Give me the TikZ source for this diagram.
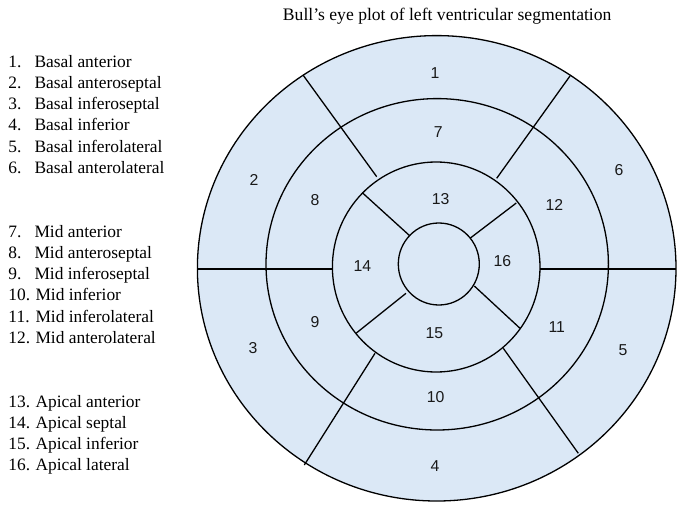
\documentclass[tikz,border=0pt]{standalone}
\usepackage{fontspec}
\setmainfont{Liberation Serif}
\newfontfamily\segfont{Liberation Sans}
\definecolor{segblue}{HTML}{DBE8F6}
\begin{document}
\begin{tikzpicture}[x=1pt,y=-1pt,
  ring/.style={draw=black,line width=1.3pt},
  divider/.style={draw=black,line width=1.3pt},
  hdivider/.style={draw=black,line width=2.2pt},
  seglabel/.style={font=\segfont\fontsize{15.8}{18}\selectfont,inner sep=0pt,text=black!90},
  itemtext/.style={anchor=base west,inner sep=0pt,font=\fontsize{17.4}{21}\selectfont},
  titletext/.style={anchor=base,inner sep=0pt,font=\fontsize{17.6}{21}\selectfont}]
\useasboundingbox (0,0) rectangle (686,511);

% title
\node[titletext] (title) at (447.2,20.7) {Bull’s eye plot of left ventricular segmentation};

% disk
\fill[segblue] (436.7,268.3) ellipse [x radius=239.3, y radius=232.7];
\draw[ring] (436.7,268.3) ellipse [x radius=239.3, y radius=232.7];
\draw[ring] (437.2,264.3) ellipse [x radius=171.2, y radius=165.7];
\draw[ring] (436.2,267.0) ellipse [x radius=103.8, y radius=105.0];
\draw[ring] (438.8,264.0) ellipse [x radius=40.5, y radius=41.0];

% basal / mid dividers
\draw[divider] (303,75) -- (376.7,176.7);
\draw[divider] (570,76) -- (496.7,178.3);
\draw[divider] (304.3,465) -- (375,353.3);
\draw[divider] (578.3,453.3) -- (503.3,348.3);
\draw[hdivider] (197.3,269) -- (332.3,269);
\draw[hdivider] (540,269) -- (676,269);

% apical dividers
\draw[divider] (362.3,192.7) -- (410,236);
\draw[divider] (516.3,203) -- (470,238.3);
\draw[divider] (356,333.3) -- (406,293.3);
\draw[divider] (474.3,286) -- (520,328.3);

% segment labels
\node[seglabel] (s1) at (435,73.3) {1};
\node[seglabel] (s2) at (254,180) {2};
\node[seglabel] (s3) at (253,348) {3};
\node[seglabel] (s4) at (435,466) {4};
\node[seglabel] (s5) at (623,350) {5};
\node[seglabel] (s6) at (619,170) {6};
\node[seglabel] (s7) at (438.3,131.7) {7};
\node[seglabel] (s8) at (315,200) {8};
\node[seglabel] (s9) at (315,321.7) {9};
\node[seglabel] (s10) at (435.7,396.7) {10};
\node[seglabel] (s11) at (556.7,327.3) {11};
\node[seglabel] (s12) at (554.3,205) {12};
\node[seglabel] (s13) at (440.7,199.3) {13};
\node[seglabel] (s14) at (362.3,266) {14};
\node[seglabel] (s15) at (434.3,333.3) {15};
\node[seglabel] (s16) at (502.3,261) {16};

% legend
\node[itemtext] (n1) at (8.3,67.3) {1.};   \node[itemtext] (t1) at (34.3,67.3) {Basal anterior};
\node[itemtext] (n2) at (8.3,88.5) {2.};   \node[itemtext] (t2) at (34.3,88.5) {Basal anteroseptal};
\node[itemtext] (n3) at (8.3,109.7) {3.};  \node[itemtext] (t3) at (34.3,109.7) {Basal inferoseptal};
\node[itemtext] (n4) at (8.3,130.9) {4.};  \node[itemtext] (t4) at (34.3,130.9) {Basal inferior};
\node[itemtext] (n5) at (8.3,152.1) {5.};  \node[itemtext] (t5) at (34.3,152.1) {Basal inferolateral};
\node[itemtext] (n6) at (8.3,173.3) {6.};  \node[itemtext] (t6) at (34.3,173.3) {Basal anterolateral};

\node[itemtext] (n7) at (8.3,237.3) {7.};   \node[itemtext] (t7) at (34.3,237.3) {Mid anterior};
\node[itemtext] (n8) at (8.3,258.5) {8.};   \node[itemtext] (t8) at (34.3,258.5) {Mid anteroseptal};
\node[itemtext] (n9) at (8.3,279.7) {9.};   \node[itemtext] (t9) at (34.3,279.7) {Mid inferoseptal};
\node[itemtext] (n10) at (8.3,300.9) {10.}; \node[itemtext] (t10) at (35.3,300.9) {Mid inferior};
\node[itemtext] (n11) at (8.3,322.1) {11.}; \node[itemtext] (t11) at (35.3,322.1) {Mid inferolateral};
\node[itemtext] (n12) at (8.3,343.3) {12.}; \node[itemtext] (t12) at (35.3,343.3) {Mid anterolateral};

\node[itemtext] (n13) at (8.3,407.3) {13.}; \node[itemtext] (t13) at (35.3,407.3) {Apical anterior};
\node[itemtext] (n14) at (8.3,428.5) {14.}; \node[itemtext] (t14) at (35.3,428.5) {Apical septal};
\node[itemtext] (n15) at (8.3,449.7) {15.}; \node[itemtext] (t15) at (35.3,449.7) {Apical inferior};
\node[itemtext] (n16) at (8.3,470.9) {16.}; \node[itemtext] (t16) at (35.3,470.9) {Apical lateral};
\end{tikzpicture}
\end{document}
